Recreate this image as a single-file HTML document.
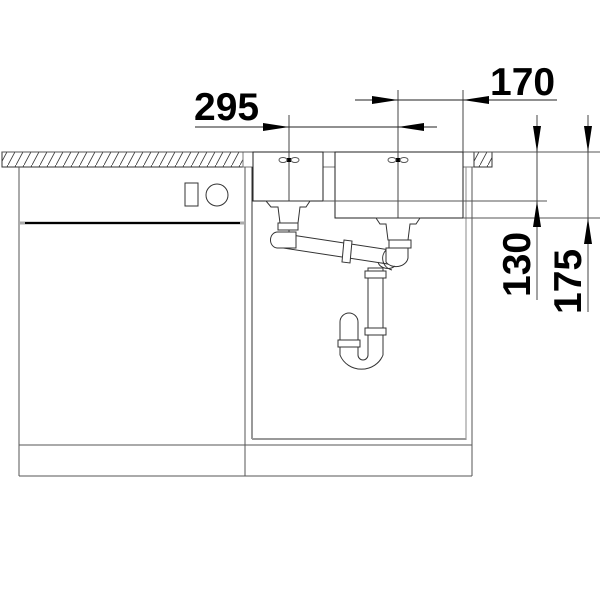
<!DOCTYPE html>
<html><head><meta charset="utf-8"><style>html,body{margin:0;padding:0;background:#fff}svg{display:block}</style></head><body>
<svg width="600" height="600" viewBox="0 0 600 600" xmlns="http://www.w3.org/2000/svg">
<defs>
<pattern id="h" patternUnits="userSpaceOnUse" width="8" height="15"><line x1="0" y1="15" x2="8" y2="0" stroke="#333" stroke-width="0.8"/></pattern>
</defs>
<g fill="none" stroke="#333" stroke-width="1">
<rect x="2" y="152" width="241" height="15" fill="url(#h)"/>
<rect x="243" y="152" width="10" height="15" stroke="#777"/>
<rect x="323" y="152" width="12" height="15" stroke="#777"/>
<rect x="463" y="152" width="11" height="15" stroke="#777"/>
<rect x="474" y="152" width="18" height="15" fill="url(#h)"/>
<line x1="2" y1="152" x2="600" y2="152" stroke="#555"/>
<line x1="19" y1="167" x2="19" y2="476" stroke="#555"/>
<line x1="245" y1="167" x2="245" y2="476" stroke="#555"/>
<line x1="472" y1="167" x2="472" y2="476" stroke="#555"/>
<line x1="466" y1="167" x2="466" y2="440" stroke="#888"/>
<line x1="252" y1="167" x2="252" y2="439" stroke="#333"/>
<line x1="252" y1="439" x2="466" y2="439" stroke="#999" stroke-width="2"/>
<line x1="19" y1="445" x2="472" y2="445" stroke="#555"/>
<line x1="19" y1="476" x2="472" y2="476" stroke="#555"/>
<line x1="19" y1="223" x2="245" y2="223" stroke="#aaa" stroke-width="3"/>
<line x1="25" y1="223" x2="240" y2="223" stroke="#000" stroke-width="2"/>
<rect x="185" y="183" width="13" height="23"/>
<circle cx="217" cy="195" r="11"/>
<rect x="253" y="152" width="70" height="49" stroke="#222"/>
<rect x="335" y="152" width="128" height="66" stroke="#222"/>
<line x1="289" y1="115" x2="289" y2="232" stroke="#444"/>
<line x1="398" y1="90" x2="398" y2="245" stroke="#444"/>
<line x1="463" y1="90" x2="463" y2="152" stroke="#444"/>
<line x1="323" y1="201" x2="547" y2="201" stroke="#555"/>
<line x1="463" y1="218" x2="600" y2="218" stroke="#555"/>
<line x1="195" y1="127" x2="437" y2="127" stroke="#222"/>
<line x1="355" y1="100" x2="557" y2="100" stroke="#222"/>
<line x1="537" y1="115" x2="537" y2="300" stroke="#444"/>
<line x1="588" y1="115" x2="588" y2="312" stroke="#444"/>
</g>
<g fill="#000">
<polygon points="289,127 263,123 263,131"/>
<polygon points="398,127 424,123 424,131"/>
<polygon points="398,100 372,96 372,104"/>
<polygon points="463,100 489,96 489,104"/>
<polygon points="537,152 533,126 541,126"/>
<polygon points="537,201 533,227 541,227"/>
<polygon points="588,152 584,126 592,126"/>
<polygon points="588,218 584,244 592,244"/>
<rect x="287" y="158" width="4" height="4"/>
<rect x="396" y="158" width="4" height="4"/>
</g>
<g fill="none" stroke="#555" stroke-width="1">
<ellipse cx="283" cy="160" rx="4" ry="2.5"/><ellipse cx="295" cy="160" rx="4" ry="2.5"/>
<ellipse cx="392" cy="160" rx="4" ry="2.5"/><ellipse cx="404" cy="160" rx="4" ry="2.5"/>
</g>
<g fill="#fff" stroke="#333" stroke-width="1">
<path d="M266,201 L310,201 L306,207 L300,207 L298,223 L280,223 L278,207 L271,207 Z"/>
<path d="M376,218 L420,218 L416,224 L410,224 L408,240 L388,240 L386,224 L380,224 Z"/>
<path d="M285,234 L390,250 L388,264 L283,248 Z"/>
<path d="M278,232 L296,232 L296,248 L277,248 A7,8 0 0 1 278,232 Z"/>
<rect x="278" y="223" width="20" height="7"/>
<path d="M344,240 L352,241 L350,263 L342,262 Z"/>
<path d="M386,248 L408,248 L408,258 A12,10 0 0 1 386,262 Z"/>
<path d="M386,250 A12,12 0 0 0 392,270" fill="none"/>
<rect x="389" y="240" width="22" height="8"/>
<path d="M368,268 L383,268 L383,355 A23,22 0 0 1 340,355 L340,322 A9,9 0 0 1 358,322 L358,355 A5,5 0 0 0 368,355 Z"/>
<rect x="365" y="271" width="21" height="7"/>
<rect x="365" y="328" width="21" height="7"/>
<rect x="338" y="340" width="22" height="7"/>
<path d="M378,262 A10,8 0 0 0 395,266" fill="none"/>
</g>
<g font-family="Liberation Sans, sans-serif" font-weight="bold" fill="#000" font-size="39">
<text x="194" y="120">295</text>
<text x="490" y="95">170</text>
<text transform="translate(530,297) rotate(-90)">130</text>
<text transform="translate(581,314) rotate(-90)">175</text>
</g>
</svg>
</body></html>
